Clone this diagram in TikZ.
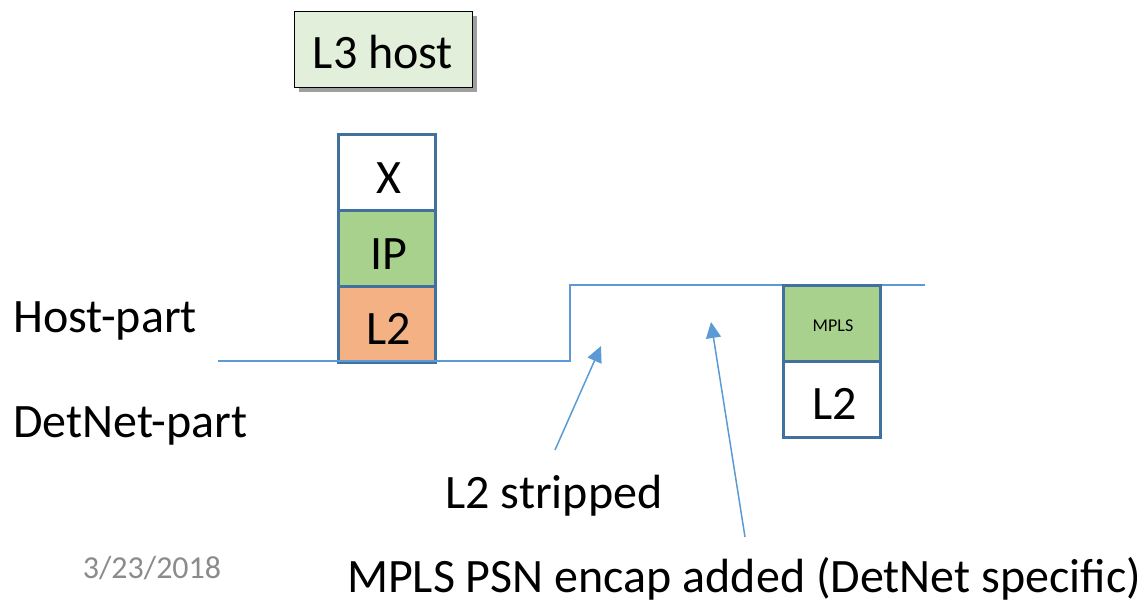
\documentclass[tikz,border=0pt]{standalone}
\usepackage{fontspec}
\setmainfont{Carlito}
\usetikzlibrary{arrows.meta}
\definecolor{edgeblue}{HTML}{41719C}
\definecolor{lineblue}{HTML}{5B9BD5}
\definecolor{ipgreen}{HTML}{A9D18E}
\definecolor{lightgreen}{HTML}{E2EFDA}
\definecolor{ltwoorange}{HTML}{F4B183}
\definecolor{dategray}{HTML}{8B8B8B}
\tikzset{
  big/.style={font=\fontsize{48}{52}\selectfont, inner sep=0pt},
  layer/.style={draw=edgeblue, line width=3pt, minimum width=97pt, minimum height=76pt, inner sep=0pt},
  flow/.style={draw=lineblue, line width=1.5pt},
  pointer/.style={draw=lineblue, line width=1.5pt, -{Triangle[length=16pt,width=15pt]}}
}
\begin{document}
\begin{tikzpicture}[x=1pt,y=-1pt]
\useasboundingbox (0,0) rectangle (1145,600);
% host box with drop shadow
\fill[gray!75] (299,16) rectangle (477,92);
\node[draw=black, line width=1pt, fill=lightgreen, minimum width=178pt, minimum height=76pt, inner sep=0pt] (host) at (383,49) {};
\node[big, anchor=base] (hosttxt) at (383,68) {L3 host};
% protocol stack on the host side
\node[layer, fill=white] (x) at (386.5,172) {};
\node[layer, fill=ipgreen] (ip) at (386.5,248) {};
\node[layer, fill=ltwoorange] (l2a) at (386.5,324) {};
\node[big, anchor=base] at (389,193) {X};
\node[big, anchor=base] at (389,269) {IP};
\node[big, anchor=base] at (389,344) {L2};
% boundary line between host part and DetNet part
\coordinate (s) at (218,361);
\coordinate (k1) at (570,361);
\coordinate (k2) at (570,285);
\coordinate (e) at (925,285);
\draw[flow] (s) -- (k1) -- (k2) -- (e);
% DetNet side stack
\node[layer, fill=ipgreen] (mpls) at (832,323) {};
\node[layer, fill=white] (l2b) at (832,399) {};
\node[font=\fontsize{18}{20}\selectfont, inner sep=0pt, anchor=base] at (833,331) {MPLS};
\node[big, anchor=base] at (835,419) {L2};
% side labels
\node[big, anchor=base west] (hp) at (13,332) {Host-part};
\node[big, anchor=base west] (dp) at (13,437) {DetNet-part};
% annotations with pointers
\node[big, anchor=base] (strip) at (554,508) {L2 stripped};
\node[big, anchor=base] (encap) at (744,592) {MPLS PSN encap added (DetNet specific)};
\coordinate (t1) at (601,346);
\coordinate (t2) at (711,322);
\coordinate (f1) at (555,450);
\coordinate (f2) at (745,537);
\draw[pointer] (f1) -- (t1);
\draw[pointer] (f2) -- (t2);
% date
\node[font=\fontsize{32}{35}\selectfont, text=dategray, inner sep=0pt, anchor=base] (date) at (152,578) {3/23/2018};
\end{tikzpicture}
\end{document}
